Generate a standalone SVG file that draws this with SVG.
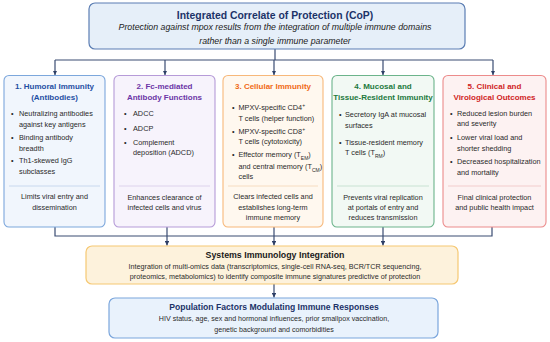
<svg xmlns="http://www.w3.org/2000/svg" width="550" height="342" viewBox="0 0 550 342">
<defs>
<marker id="ah" viewBox="0 0 10 10" refX="10" refY="5" markerWidth="4.5" markerHeight="4.5" markerUnits="userSpaceOnUse" orient="auto">
<path d="M0,0 L10,5 L0,10 Z" fill="#2d3f66"/>
</marker>
<style>
text{font-family:"Liberation Sans",Arial,sans-serif;fill:#2a2a2a}
.t{font-weight:bold;font-size:8px;text-anchor:middle}
.b{font-size:7.3px}
.c{font-size:7.3px;text-anchor:middle}
.conn{stroke:#3a4c72;stroke-width:1.2;fill:none}
.sep{stroke-width:1;fill:none}
</style>
</defs>
<rect width="550" height="342" fill="#ffffff"/>

<g id="connectors">
<path class="conn" d="M275,49 V60 M55,60 H493"/>
<path class="conn" d="M55,60 V75" marker-end="url(#ah)"/>
<path class="conn" d="M165,60 V75" marker-end="url(#ah)"/>
<path class="conn" d="M274,60 V75" marker-end="url(#ah)"/>
<path class="conn" d="M383,60 V75" marker-end="url(#ah)"/>
<path class="conn" d="M493,60 V75" marker-end="url(#ah)"/>
<path class="conn" d="M55,227 V236 H492 V227"/>
<path class="conn" d="M167,227 V245.5" marker-end="url(#ah)"/>
<path class="conn" d="M274,227 V245.5" marker-end="url(#ah)"/>
<path class="conn" d="M383,227 V245.5" marker-end="url(#ah)"/>
<path class="conn" d="M274,284 V297.5" marker-end="url(#ah)"/>
</g>

<g id="cop">
<rect x="89" y="3" width="376" height="46" rx="6" fill="#e6eff9" stroke="#5b7db3" stroke-width="1.2"/>
<text x="275" y="18.5" text-anchor="middle" font-weight="bold" font-size="10.4" style="fill:#1c3368">Integrated Correlate of Protection (CoP)</text>
<text x="275" y="30" text-anchor="middle" font-style="italic" font-size="8.8" style="fill:#222">Protection against mpox results from the integration of multiple immune domains</text>
<text x="275" y="44" text-anchor="middle" font-style="italic" font-size="8.8" style="fill:#222">rather than a single immune parameter</text>
</g>

<g id="humoral">
<rect x="4" y="75.5" width="101" height="151.5" rx="5" fill="#f1f6fd" stroke="#7ca7dc" stroke-width="1.1"/>
<text class="t" x="54.5" y="88.5" style="fill:#1f4fa3">1. Humoral Immunity</text>
<text class="t" x="54.5" y="99.5" style="fill:#1f4fa3">(Antibodies)</text>
<text class="b" x="11" y="115.5">•</text>
<text class="b" x="19" y="115.5">Neutralizing antibodies</text>
<text class="b" x="19" y="126.5">against key antigens</text>
<text class="b" x="11" y="139.5">•</text>
<text class="b" x="19" y="139.5">Binding antibody</text>
<text class="b" x="19" y="150.5">breadth</text>
<text class="b" x="11" y="163">•</text>
<text class="b" x="19" y="163">Th1-skewed IgG</text>
<text class="b" x="19" y="174">subclasses</text>
<path class="sep" d="M9,186 H100" stroke="#c8d8ee"/>
<text class="c" x="54.5" y="199">Limits viral entry and</text>
<text class="c" x="54.5" y="209.5">dissemination</text>
</g>

<g id="fc">
<rect x="114" y="75.5" width="101" height="151.5" rx="5" fill="#f7f3fc" stroke="#b69bd8" stroke-width="1.1"/>
<text class="t" x="164.5" y="88.5" style="fill:#6b35a6">2. Fc-mediated</text>
<text class="t" x="164.5" y="99.5" style="fill:#6b35a6">Antibody Functions</text>
<text class="b" x="124" y="115.5">•</text>
<text class="b" x="133" y="115.5">ADCC</text>
<text class="b" x="124" y="130.5">•</text>
<text class="b" x="133" y="130.5">ADCP</text>
<text class="b" x="124" y="144.5">•</text>
<text class="b" x="133" y="144.5">Complement</text>
<text class="b" x="133" y="155">deposition (ADCD)</text>
<path class="sep" d="M119,186 H210" stroke="#ddd2ec"/>
<text class="c" x="164.5" y="199.5">Enhances clearance of</text>
<text class="c" x="164.5" y="210">infected cells and virus</text>
</g>

<g id="cellular">
<rect x="223" y="75.5" width="100" height="151.5" rx="5" fill="#fff8ef" stroke="#f7b87a" stroke-width="1.1"/>
<text class="t" x="273" y="88.5" style="fill:#f06a16">3. Cellular Immunity</text>
<text class="b" x="232" y="110">•</text>
<text class="b" x="238.5" y="110">MPXV-specific CD4<tspan font-size="5" baseline-shift="super">+</tspan></text>
<text class="b" x="238.5" y="120.5">T cells (helper function)</text>
<text class="b" x="232" y="133.5">•</text>
<text class="b" x="238.5" y="133.5">MPXV-specific CD8<tspan font-size="5" baseline-shift="super">+</tspan></text>
<text class="b" x="238.5" y="144">T cells (cytotoxicity)</text>
<text class="b" x="232" y="157">•</text>
<text class="b" x="238.5" y="157">Effector memory (T<tspan font-size="5" baseline-shift="sub">EM</tspan>)</text>
<text class="b" x="238.5" y="168.5">and central memory (T<tspan font-size="5" baseline-shift="sub">CM</tspan>)</text>
<text class="b" x="238.5" y="179">cells</text>
<path class="sep" d="M228,186 H318" stroke="#f6dcc0"/>
<text class="c" x="273" y="198.5">Clears infected cells and</text>
<text class="c" x="273" y="209.5">establishes long-term</text>
<text class="c" x="273" y="220">immune memory</text>
</g>

<g id="mucosal">
<rect x="332" y="75.5" width="102" height="151.5" rx="5" fill="#f2f9f4" stroke="#6cb48b" stroke-width="1.1"/>
<text class="t" x="383" y="88.5" style="fill:#1d7a3e">4. Mucosal and</text>
<text class="t" x="383" y="99.5" style="fill:#1d7a3e">Tissue-Resident Immunity</text>
<text class="b" x="339" y="116.5">•</text>
<text class="b" x="345" y="116.5">Secretory IgA at mucosal</text>
<text class="b" x="345" y="128">surfaces</text>
<text class="b" x="339" y="144.5">•</text>
<text class="b" x="345" y="144.5">Tissue-resident memory</text>
<text class="b" x="345" y="155">T cells (T<tspan font-size="5" baseline-shift="sub">RM</tspan>)</text>
<path class="sep" d="M337,186 H429" stroke="#c8e2d2"/>
<text class="c" x="383" y="199.5">Prevents viral replication</text>
<text class="c" x="383" y="210">at portals of entry and</text>
<text class="c" x="383" y="220">reduces transmission</text>
</g>

<g id="clinical">
<rect x="443" y="75.5" width="103" height="151.5" rx="5" fill="#fdf2f2" stroke="#ec8b8b" stroke-width="1.1"/>
<text class="t" x="494.5" y="88.5" style="fill:#d01f1f">5. Clinical and</text>
<text class="t" x="494.5" y="99.5" style="fill:#d01f1f">Virological Outcomes</text>
<text class="b" x="450" y="115.5">•</text>
<text class="b" x="457" y="115.5">Reduced lesion burden</text>
<text class="b" x="457" y="126">and severity</text>
<text class="b" x="450" y="139.5">•</text>
<text class="b" x="457" y="139.5">Lower viral load and</text>
<text class="b" x="457" y="150.5">shorter shedding</text>
<text class="b" x="450" y="163.5">•</text>
<text class="b" x="457" y="163.5">Decreased hospitalization</text>
<text class="b" x="457" y="174.5">and mortality</text>
<path class="sep" d="M448,186 H541" stroke="#f2cccc"/>
<text class="c" x="494.5" y="199.5">Final clinical protection</text>
<text class="c" x="494.5" y="210">and public health impact</text>
</g>

<g id="systems">
<rect x="86" y="246" width="372" height="38" rx="6" fill="#fdf2dc" stroke="#f6c873" stroke-width="1.2"/>
<text x="275" y="258" text-anchor="middle" font-weight="bold" font-size="8.8" style="fill:#1a1a1a">Systems Immunology Integration</text>
<text x="275" y="269" text-anchor="middle" font-size="7.2">Integration of multi-omics data (transcriptomics, single-cell RNA-seq, BCR/TCR sequencing,</text>
<text x="275" y="279" text-anchor="middle" font-size="7.2">proteomics, metabolomics) to identify composite immune signatures predictive of protection</text>
</g>

<g id="population">
<rect x="109" y="298" width="329" height="40" rx="6" fill="#e9f2fc" stroke="#7ba6dc" stroke-width="1.2"/>
<text x="274" y="310" text-anchor="middle" font-weight="bold" font-size="8.6" style="fill:#1c3368">Population Factors Modulating Immune Responses</text>
<text x="274" y="321" text-anchor="middle" font-size="7.1">HIV status, age, sex and hormonal influences, prior smallpox vaccination,</text>
<text x="274" y="331.5" text-anchor="middle" font-size="7.1">genetic background and comorbidities</text>
</g>
</svg>
